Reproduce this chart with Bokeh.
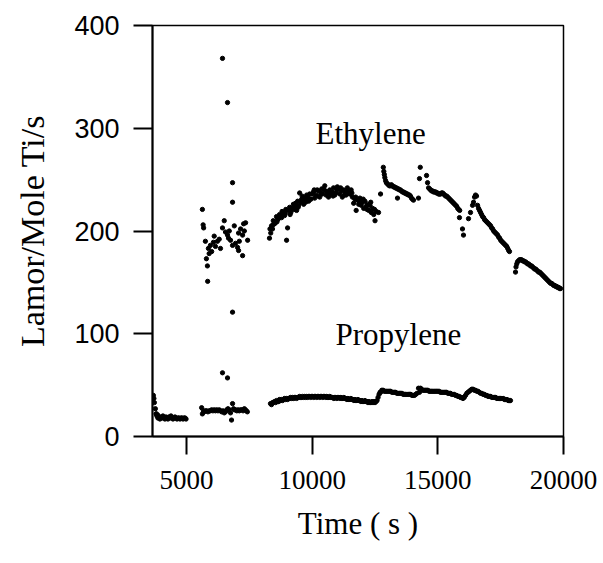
from bokeh.plotting import figure
from bokeh.models import FixedTicker, Label
from bokeh.embed import file_html
from bokeh.resources import INLINE

# ---------------- data ----------------
# Ethylene rate (Lamor / Mole Ti / s) versus time (s)
ethylene_time = [
    # early scattered cluster
    5630, 5660, 5680, 5750, 5790, 5830, 5840, 5870, 5900, 5950, 6000, 6070, 6100,
    6150, 6230, 6300, 6350, 6430, 6500, 6550, 6630, 6670, 6700, 6750, 6830, 6900,
    6950, 7030, 7070, 7070, 7100, 7150, 7230, 7230, 7270, 7300, 7350, 7430,
    # outliers
    6430, 6630, 6830, 6830, 6430, 6630, 6830,
    # arc
    8300, 8320, 8350, 8380, 8420, 8450, 8500, 8540, 8580, 8620, 8660, 8700, 8750,
    8800, 8850, 8900, 8950, 8980, 9020, 9060, 9100, 9150, 9200, 9250, 9300, 9340,
    9380, 9420, 9460, 9500, 9540, 9580, 9620, 9660, 9700, 9740, 9780, 9820, 9860,
    9900, 9950, 10000, 10050, 10100, 10150, 10200, 10250, 10300, 10350, 10400,
    10450, 10500, 10550, 10600, 10650, 10700, 10750, 10800, 10850, 10900, 10950,
    11000, 11050, 11100, 11150, 11200, 11250, 11300, 11350, 11400, 11450, 11500,
    11550, 11600, 11650, 11700, 11750, 11800, 11850, 11900, 11950, 12000, 12050,
    12100, 12150, 12200, 12250, 12300, 12350, 12400, 12450, 12500, 12550, 12640,
    12720,
    8440, 8600, 8780, 8930, 9120, 9280, 9440, 9600, 9760, 9920, 10080, 10230,
    10380, 10530, 10680, 10830, 10980, 11130, 11280, 11430, 11580, 11730, 11880,
    12030, 12180, 12330, 12480,
    # second segment
    12830, 12850, 12870, 12890, 12920, 12950, 12990, 13030, 13070, 13110, 13150,
    13190, 13230, 13270, 13310, 13350, 13390, 13430, 13470, 13510, 13550, 13590,
    13630, 13670, 13710, 13750, 13790, 13830, 13870, 13910, 13950, 13990, 14030,
    13394, 14229,
    # third segment
    14300, 14270, 14550, 14590, 14630, 14670, 14710, 14750, 14790, 14830, 14870,
    14910, 14950, 14990, 15030, 15070, 15110, 15150, 15190, 15230, 15270, 15310,
    15350, 15390, 15430, 15470, 15510, 15550, 15590, 15630, 15670, 15710, 15750,
    15790, 15830, 15870, 15860, 15980, 16020,
    # fourth segment
    16220, 16300, 16380, 16420, 16460, 16500, 16540, 16580, 16620, 16660, 16700,
    16740, 16780, 16820, 16860, 16900, 16940, 16980, 17020, 17060, 17100, 17140,
    17180, 17220, 17260, 17300, 17340, 17380, 17420, 17460, 17500, 17540, 17580,
    17620, 17660, 17700, 17740, 17780, 17820, 17850,
    # fifth segment
    18090, 18110, 18140, 18170, 18210, 18250, 18290, 18330, 18370, 18410, 18450,
    18490, 18530, 18570, 18610, 18650, 18690, 18730, 18770, 18810, 18850, 18890,
    18930, 18970, 19010, 19050, 19090, 19130, 19170, 19210, 19250, 19290, 19330,
    19370, 19410, 19450, 19490, 19530, 19570, 19610, 19650, 19690, 19730, 19770,
    19810, 19850, 19880,
]
ethylene_rate = [
    221, 206, 203, 190, 173, 166, 151, 183, 178, 186, 180, 189, 195,
    185, 190, 192, 183, 203, 210, 199, 196, 193, 200, 191, 186, 205,
    188, 184, 198, 181, 190, 202, 196, 176, 207, 200, 208, 191,
    368, 325, 247, 228, 62, 57, 121,
    193, 202, 198, 205, 202, 210, 207, 208, 214, 211, 212, 216, 214,
    219, 218, 215, 221, 191, 203, 220, 223, 218, 222, 226, 224, 227,
    220, 229, 225, 237, 228, 231, 230, 226, 232, 228, 235, 233, 229,
    236, 231, 236, 238, 232, 235, 240, 239, 233, 237, 236,
    241, 244, 235, 238, 233, 240, 236, 238, 242, 235, 237,
    243, 241, 236, 239, 233, 240, 238, 235, 242, 237, 236,
    240, 233, 227, 231, 220, 230, 226, 232, 225, 228, 222,
    229, 224, 226, 220, 225, 218, 222, 216, 210, 219, 218,
    236,
    206, 209, 213, 217, 216, 221, 223, 234, 230, 231, 240, 234,
    241, 239, 237, 234, 240, 242, 235, 239, 237, 233, 229,
    231, 221, 228, 221,
    262, 258, 255, 252, 249, 247, 246, 245, 244, 244, 245,
    244, 243, 243, 242, 242, 241, 241, 240, 240, 239, 238,
    238, 237, 237, 236, 236, 235, 235, 234, 232, 231, 230,
    232, 232,
    262, 251, 254, 247, 242, 241, 240, 239, 239, 238, 238,
    238, 237, 237, 236, 236, 236, 237, 237, 236, 235, 234,
    234, 233, 232, 231, 230, 229, 228, 227, 226, 225, 224,
    222, 221, 220, 213, 202, 196,
    212, 218, 225, 228, 233, 235, 234, 225, 222, 220, 218,
    216, 214, 213, 211, 210, 209, 208, 207, 206, 205, 203,
    202, 200, 199, 198, 197, 196, 194, 193, 191, 190, 189,
    188, 187, 186, 185, 183, 181, 180,
    160, 165, 168, 170, 171, 172, 172, 172, 171, 171, 170,
    170, 169, 168, 168, 167, 166, 166, 165, 164, 163, 163,
    162, 161, 160, 160, 159, 158, 157, 156, 155, 154, 153,
    152, 151, 150, 149, 149, 148, 147, 147, 146, 146, 145,
    145, 144, 144,
]

# Propylene rate (Lamor / Mole Ti / s) versus time (s)
propylene_time = [
    3680, 3700, 3720, 3760, 3790, 3800, 3850,
    3820, 3860, 3900, 3940, 3980, 4020, 4060, 4100, 4140, 4180, 4220, 4260, 4300,
    4340, 4380, 4420, 4460, 4500, 4540, 4580, 4620, 4660, 4700, 4740, 4780, 4820,
    4860, 4900, 4940, 4980,
    5600, 5630, 5670, 5700, 5750, 5800, 5850, 5900, 5950, 6000, 6050, 6100, 6150,
    6200, 6250, 6300, 6350, 6400, 6450, 6500, 6550, 6600, 6650, 6700, 6750, 6790,
    6830, 6870, 6900, 6950, 7000, 7050, 7100, 7150, 7200, 7250, 7300, 7340, 7380,
    7420,
    8340, 8380, 8420, 8460, 8500, 8540, 8580, 8620, 8660, 8700, 8740, 8780, 8820,
    8860, 8900, 8940, 8980, 9020, 9060, 9100, 9140, 9180, 9220, 9260, 9300, 9340,
    9380, 9420, 9460, 9500, 9540, 9580, 9620, 9660, 9700, 9740, 9780, 9820, 9860,
    9900, 9940, 9980, 10020, 10060, 10100, 10140, 10180, 10220, 10260, 10300,
    10340, 10380, 10420, 10460, 10500, 10540, 10580, 10620, 10660, 10700, 10740,
    10780, 10820, 10860, 10900, 10940, 10980, 11020, 11060, 11100, 11140, 11180,
    11220, 11260, 11300, 11340, 11380, 11420, 11460, 11500, 11540, 11580, 11620,
    11660, 11700, 11740, 11780, 11820, 11860, 11900, 11940, 11980, 12020, 12060,
    12100, 12140, 12180, 12220, 12260, 12300, 12340, 12380, 12420, 12460, 12500,
    12540, 12580, 12620, 12660, 12700,
    12720, 12770, 12820, 12870, 12920, 12970, 13020, 13070, 13120, 13170, 13220,
    13270, 13320, 13370, 13420, 13470, 13520, 13570, 13620, 13670, 13720, 13770,
    13820, 13870, 13920, 13970, 14020, 14070, 14120, 14170, 14230, 14270,
    14310, 14350, 14400, 14450, 14500, 14550, 14600, 14650, 14700, 14750, 14800,
    14850, 14900, 14950, 15000, 15050, 15100, 15150, 15200, 15250, 15300, 15350,
    15400, 15450, 15500, 15550, 15600, 15650, 15700, 15750, 15800, 15850, 15900,
    15950, 16000, 16050,
    16100, 16150, 16200, 16250, 16300, 16350, 16400, 16450, 16500, 16550, 16600,
    16650, 16700, 16750, 16800, 16850, 16900, 16950, 17000, 17050, 17100, 17150,
    17200, 17250, 17300, 17350, 17400, 17450, 17500, 17550, 17600, 17650, 17700,
    17750, 17800, 17850, 17890,
]
propylene_rate = [
    40, 37, 33, 27, 22, 22, 21,
    20, 18, 19, 17, 19, 18, 20, 18, 17, 19, 18, 17, 19,
    18, 20, 18, 17, 18, 19, 18, 17, 18, 18, 17, 18, 18,
    17, 18, 18, 17,
    28, 22, 25, 24, 25, 25, 24, 25, 25, 26, 25, 26, 25,
    26, 25, 26, 25, 24, 25, 23, 24, 26, 27, 26, 23, 16,
    32, 27, 26, 26, 25, 26, 25, 26, 26, 25, 27, 26, 25,
    24,
    32, 31, 33, 33, 34, 33, 35, 34, 34, 36, 35, 36, 35,
    36, 37, 36, 37, 36, 37, 37, 38, 37, 38, 37, 38, 38,
    37, 38, 38, 39, 38, 38, 39, 38, 39, 38, 39, 38, 39,
    39, 38, 39, 39, 38, 39, 39, 38, 39, 39, 38,
    39, 39, 38, 39, 39, 38, 39, 38, 38, 39, 38,
    38, 38, 37, 38, 38, 37, 38, 38, 37, 38, 37,
    37, 38, 37, 37, 36, 37, 36, 36, 37, 36, 36,
    35, 36, 35, 35, 36, 35, 35, 34, 35, 34, 34,
    35, 34, 34, 33, 34, 33, 33, 34, 33, 34, 33,
    34, 35, 38, 41, 43,
    43, 45, 45, 44, 44, 44, 44, 44, 44, 43, 43,
    43, 43, 42, 42, 42, 42, 42, 41, 41, 41, 41,
    41, 41, 41, 40, 40, 40, 41, 42, 47, 43,
    47, 46, 45, 45, 45, 45, 45, 44, 44, 44, 44,
    44, 44, 44, 44, 44, 43, 43, 43, 43, 43, 43,
    42, 42, 42, 41, 41, 41, 40, 40, 39, 39, 38,
    38, 37, 38,
    40, 42, 43, 44, 45, 46, 46, 45, 45, 44, 44,
    43, 42, 42, 41, 41, 40, 40, 39, 39, 39, 38,
    38, 38, 38, 37, 37, 37, 37, 37, 37, 36, 36,
    36, 35, 35, 35,
]

x_ticks = [5000, 10000, 15000, 20000]
y_ticks = [0, 100, 200, 300, 400]
series_labels = ["Ethylene", "Propylene"]

# ---------------- figure ----------------
p = figure(
    width=603, height=563,
    x_range=(3645, 20000), y_range=(0, 400),
    output_backend="svg", toolbar_location=None,
    min_border_left=152, min_border_right=40,
    min_border_top=25, min_border_bottom=127,
)
p.xgrid.visible = False
p.ygrid.visible = False
p.background_fill_color = "white"
p.border_fill_color = "white"
p.outline_line_color = "black"
p.outline_line_width = 1.5

serif = "Liberation Serif"
sans = "Liberation Sans"

xa = p.xaxis[0]
xa.ticker = FixedTicker(ticks=x_ticks)
xa.axis_label = "Time ( s )"
xa.axis_label_text_font = serif
xa.axis_label_text_font_size = "31px"
xa.axis_label_text_font_style = "normal"
xa.axis_label_text_color = "black"
xa.axis_label_standoff = 14
xa.major_label_text_font = serif
xa.major_label_text_font_size = "27px"
xa.major_label_text_color = "black"
xa.major_label_standoff = 16
xa.major_tick_out = 18
xa.major_tick_in = 0
xa.minor_tick_out = 0
xa.minor_tick_in = 0
xa.axis_line_width = 2
xa.axis_line_color = "black"
xa.major_tick_line_width = 2
xa.major_tick_line_color = "black"

ya = p.yaxis[0]
ya.ticker = FixedTicker(ticks=y_ticks)
ya.axis_label = "Lamor/Mole Ti/s"
ya.axis_label_text_font = serif
ya.axis_label_text_font_size = "34px"
ya.axis_label_text_font_style = "normal"
ya.axis_label_text_color = "black"
ya.axis_label_standoff = 20
ya.major_label_text_font = sans
ya.major_label_text_font_size = "27px"
ya.major_label_text_color = "black"
ya.major_label_standoff = 14
ya.major_tick_out = 19
ya.major_tick_in = 0
ya.minor_tick_out = 0
ya.minor_tick_in = 0
ya.axis_line_width = 2
ya.axis_line_color = "black"
ya.major_tick_line_width = 2
ya.major_tick_line_color = "black"

p.scatter(ethylene_time, ethylene_rate, size=4.3, color="black", marker="circle")
p.scatter(propylene_time, propylene_rate, size=4.3, color="black", marker="circle")

p.add_layout(Label(x=10131, y=295, text=series_labels[0], text_font=serif,
                   text_font_size="31px", text_color="black",
                   text_baseline="alphabetic", text_align="left"))
p.add_layout(Label(x=10927, y=99, text=series_labels[1], text_font=serif,
                   text_font_size="31px", text_color="black",
                   text_baseline="alphabetic", text_align="left"))

open("out.html", "w").write(file_html(p, INLINE))
